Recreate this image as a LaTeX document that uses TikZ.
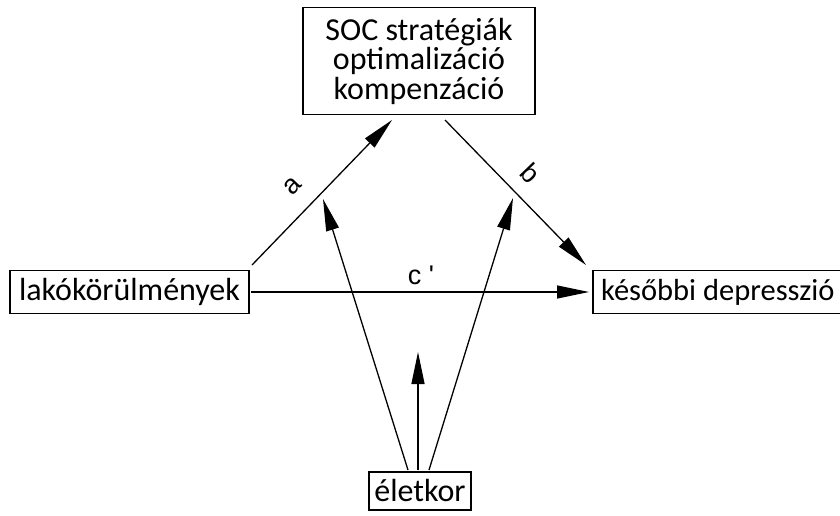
\documentclass[tikz,border=0pt]{standalone}
\usepackage{fontspec}
\setmainfont{Carlito}
\newfontfamily\lblfont{Liberation Sans}
\usetikzlibrary{arrows.meta}
\begin{document}
\begin{tikzpicture}[x=1pt,y=-1pt,
  box/.style={draw,line width=1.6pt,font=\fontsize{32}{29.5}\selectfont,inner sep=0pt,align=center},
  conn/.style={line width=1.3pt,-{Triangle[length=32pt,width=13pt]}},
  lbl/.style={font=\lblfont\fontsize{27}{27}\selectfont,inner sep=0pt}]
\clip (0,0) rectangle (840,516);
\useasboundingbox (0,0) rectangle (840,516);
\node[box,minimum width=232pt,minimum height=107pt] (T) at (419,61) {SOC stratégiák\\optimalizáció\\kompenzáció};
\node[box,minimum width=239pt,minimum height=43pt] (L) at (129.5,292) {lakókörülmények};
\node[box,minimum width=270pt,minimum height=43pt,anchor=west,inner xsep=4pt,font=\fontsize{30.5}{30}\selectfont] (R) at (592,292) {későbbi depresszió\hspace{20pt}};
\node[box,minimum width=102pt,minimum height=38pt] (E) at (420,491) {életkor};
\coordinate (aS) at (252,265);
\coordinate (aE) at (392,120);
\coordinate (bS) at (445,120);
\coordinate (bE) at (586,265);
\coordinate (cS) at (251,292);
\coordinate (cE) at (589,292);
\coordinate (e1S) at (408,470);
\coordinate (e1E) at (323,199);
\coordinate (e2S) at (418,470);
\coordinate (e2E) at (418,352);
\coordinate (e3S) at (429,470);
\coordinate (e3E) at (513,198);
\draw[conn] (aS) -- (aE);
\draw[conn] (bS) -- (bE);
\draw[conn] (cS) -- (cE);
\draw[conn] (e1S) -- (e1E);
\draw[conn] (e2S) -- (e2E);
\draw[conn] (e3S) -- (e3E);
\node[lbl,rotate=46] (la) at (293,186) {a};
\node[lbl,rotate=-46] (lb) at (531,173) {b};
\node[lbl] (lc) at (421,275) {c~'};
\end{tikzpicture}
\end{document}
